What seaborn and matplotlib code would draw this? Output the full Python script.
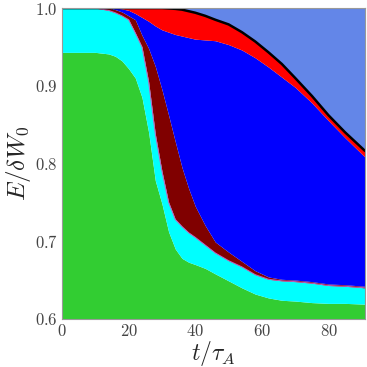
import matplotlib
matplotlib.use('Agg')
import matplotlib.pyplot as plt
import seaborn as sns
import numpy as np
from matplotlib.ticker import MultipleLocator

# time axis (t / tau_A)
t = [0, 5, 10, 14, 16, 18, 20, 22, 24, 26, 28, 30, 32, 34, 36, 38, 40,
     43, 46, 50, 54, 58, 62, 66, 70, 75, 80, 85, 91]

# cumulative boundaries of the stacked energy components
green_top = [0.943, 0.943, 0.943, 0.941, 0.938, 0.932, 0.922, 0.910, 0.885, 0.840,
             0.778, 0.748, 0.712, 0.690, 0.678, 0.673, 0.670, 0.665, 0.658, 0.649,
             0.640, 0.632, 0.627, 0.624, 0.623, 0.621, 0.620, 0.620, 0.619]
cyan_top = [1.0, 1.0, 1.0, 0.997, 0.994, 0.990, 0.985, 0.968, 0.950, 0.905,
            0.838, 0.790, 0.750, 0.728, 0.719, 0.711, 0.705, 0.695, 0.685, 0.675,
            0.667, 0.657, 0.651, 0.649, 0.648, 0.646, 0.643, 0.642, 0.640]
darkred_top = [1.0, 1.0, 1.0, 1.0, 0.998, 0.995, 0.990, 0.985, 0.965, 0.948,
               0.925, 0.895, 0.862, 0.828, 0.795, 0.768, 0.745, 0.720, 0.699, 0.686,
               0.674, 0.662, 0.654, 0.651, 0.650, 0.648, 0.645, 0.644, 0.642]
blue_top = [1.0, 1.0, 1.0, 1.0, 1.0, 0.999, 0.997, 0.993, 0.988, 0.983,
            0.977, 0.972, 0.969, 0.966, 0.964, 0.962, 0.960, 0.959, 0.958, 0.953,
            0.946, 0.936, 0.924, 0.911, 0.898, 0.878, 0.855, 0.833, 0.808]
red_top = [1.0, 1.0, 1.0, 1.0, 1.0, 1.0, 1.0, 1.0, 1.0, 1.0,
           1.0, 1.0, 0.9995, 0.999, 0.998, 0.996, 0.994, 0.990, 0.985, 0.979,
           0.969, 0.957, 0.943, 0.928, 0.910, 0.887, 0.862, 0.840, 0.816]

sns.set_style('ticks')
plt.rcParams['mathtext.fontset'] = 'cm'
plt.rcParams['font.family'] = ['DejaVu Serif']

fig = plt.figure(figsize=(3.67, 3.67), dpi=100)
ax = fig.add_axes([0.169, 0.131, 0.826, 0.847])

t_arr = np.array(t)
ax.fill_between(t_arr, 0.5, green_top, color='#32CD32', lw=0)
ax.fill_between(t_arr, green_top, cyan_top, color='#00FFFF', lw=0)
ax.fill_between(t_arr, cyan_top, darkred_top, color='#800000', lw=0)
ax.fill_between(t_arr, darkred_top, blue_top, color='#0000FF', lw=0)
ax.fill_between(t_arr, blue_top, red_top, color='#FF0000', lw=0)
ax.fill_between(t_arr, red_top, 1.05, color='#6386E8', lw=0)
sns.lineplot(x=t, y=cyan_top, color='#C060C0', lw=0.7, ax=ax, legend=False)
sns.lineplot(x=t, y=red_top, color='black', lw=1.8, ax=ax, legend=False)

ax.set_xlim(0, 91)
ax.set_ylim(0.6, 1.0)
ax.set_xticks([0, 20, 40, 60, 80])
ax.set_xticklabels([f'${v}$' for v in [0, 20, 40, 60, 80]])
ax.set_yticks([0.6, 0.7, 0.8, 0.9, 1.0])
ax.set_yticklabels([f'${v:.1f}$' for v in [0.6, 0.7, 0.8, 0.9, 1.0]])
ax.xaxis.set_minor_locator(MultipleLocator(5))
ax.yaxis.set_minor_locator(MultipleLocator(0.02))
ax.tick_params(which='both', direction='in', top=True, right=True,
               colors='#555555', labelcolor='#444444', labelsize=12, width=0.6)
ax.tick_params(which='major', length=4, pad=3)
ax.tick_params(which='minor', length=2)
for s in ax.spines.values():
    s.set_color('#999999')
    s.set_linewidth(0.8)
    s.set_zorder(5)

ax.set_xlabel(r'$t/\tau_A$', fontsize=17, labelpad=-1)
ax.set_ylabel(r'$E/\delta W_0$', fontsize=18, labelpad=1)

fig.savefig('out.png', dpi=100)
